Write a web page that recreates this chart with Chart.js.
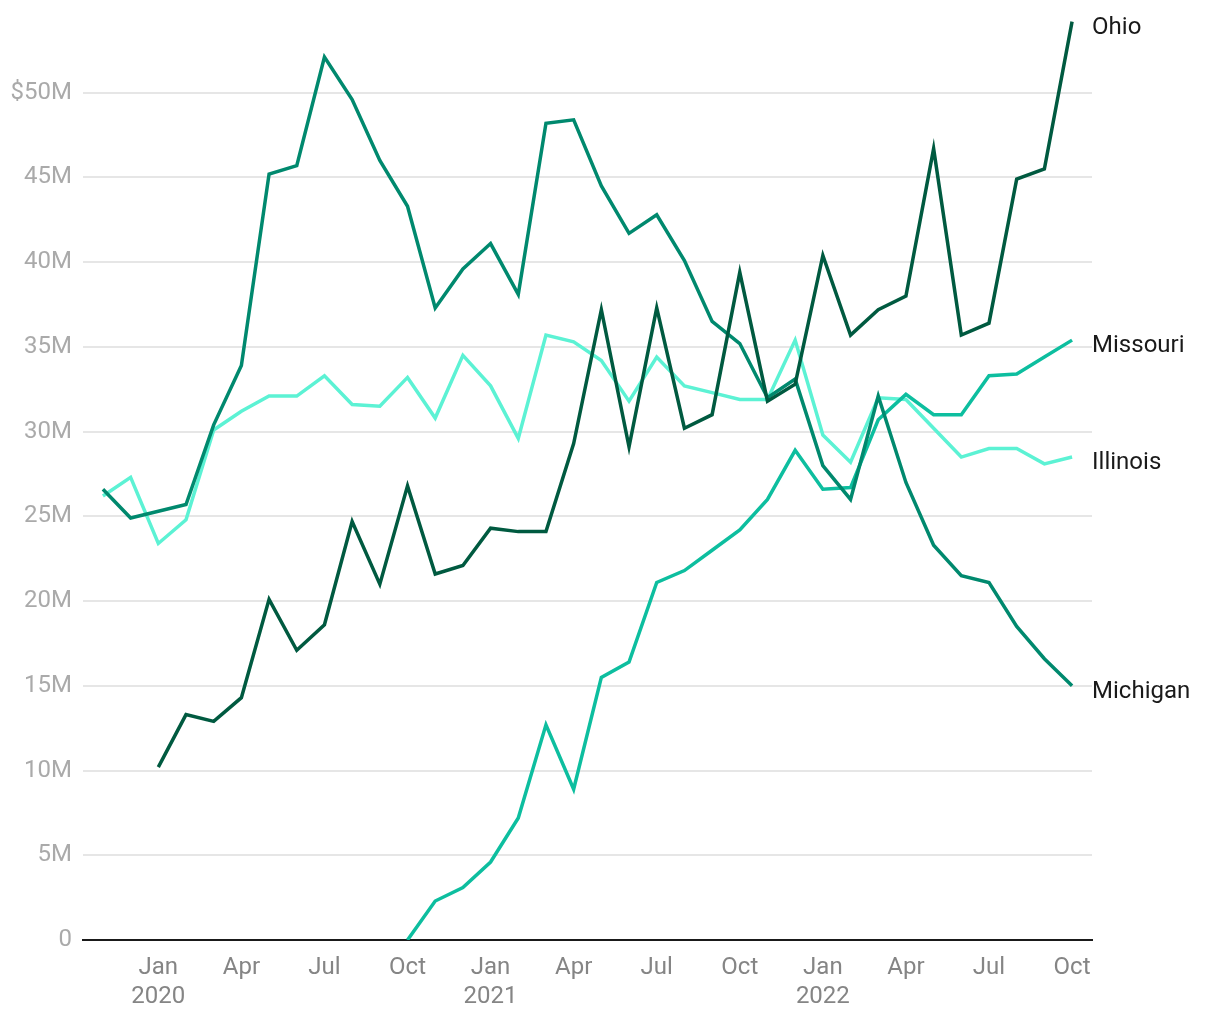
<!DOCTYPE html>
<html>
<head>
<meta charset="utf-8">
<script src="https://cdn.jsdelivr.net/npm/chart.js@4/dist/chart.umd.min.js"></script>
<style>
  body { margin: 0; background: #fff; }
  #wrap { width: 1220px; height: 1020px; }
</style>
</head>
<body>
<div id="wrap"><canvas id="chart"></canvas></div>
<script>
// months Nov 2019 .. Oct 2022
const months = ['Nov','Dec','Jan','Feb','Mar','Apr','May','Jun','Jul','Aug','Sep','Oct',
  'Nov','Dec','Jan','Feb','Mar','Apr','May','Jun','Jul','Aug','Sep','Oct',
  'Nov','Dec','Jan','Feb','Mar','Apr','May','Jun','Jul','Aug','Sep','Oct'];
const years = ['2019','2019','2020','2020','2020','2020','2020','2020','2020','2020','2020','2020',
  '2020','2020','2021','2021','2021','2021','2021','2021','2021','2021','2021','2021',
  '2021','2021','2022','2022','2022','2022','2022','2022','2022','2022','2022','2022'];

// values in $M
const ohio = [null, null, 10.2, 13.3, 12.9, 14.3, 20.1, 17.1, 18.6, 24.7, 21.0, 26.8,
  21.6, 22.1, 24.3, 24.1, 24.1, 29.3, 37.2, 29.1, 37.3, 30.2, 31.0, 39.4,
  31.8, 32.8, 40.4, 35.7, 37.2, 38.0, 46.7, 35.7, 36.4, 44.9, 45.5, 54.2];
const michigan = [26.6, 24.9, 25.3, 25.7, 30.4, 33.9, 45.2, 45.7, 52.1, 49.6, 46.0, 43.3,
  37.3, 39.6, 41.1, 38.1, 48.2, 48.4, 44.5, 41.7, 42.8, 40.1, 36.5, 35.2,
  32.0, 33.1, 28.0, 26.0, 32.1, 27.0, 23.3, 21.5, 21.1, 18.5, 16.6, 15.0];
const missouri = [null, null, null, null, null, null, null, null, null, null, null, 0,
  2.3, 3.1, 4.6, 7.2, 12.7, 8.9, 15.5, 16.4, 21.1, 21.8, 23.0, 24.2,
  26.0, 28.9, 26.6, 26.7, 30.7, 32.2, 31.0, 31.0, 33.3, 33.4, 34.4, 35.4];
const illinois = [26.2, 27.3, 23.4, 24.8, 30.1, 31.2, 32.1, 32.1, 33.3, 31.6, 31.5, 33.2,
  30.8, 34.5, 32.7, 29.6, 35.7, 35.3, 34.2, 31.8, 34.4, 32.7, 32.3, 31.9,
  31.9, 35.4, 29.8, 28.2, 32.0, 31.9, 30.2, 28.5, 29.0, 29.0, 28.1, 28.5];

const xTicks = [2, 5, 8, 11, 14, 17, 20, 23, 26, 29, 32, 35];
const yTicks = [0, 5, 10, 15, 20, 25, 30, 35, 40, 45, 50];

function toPoints(arr) {
    return arr.map((v, i) => ({ x: i, y: v }));
}

function makeSet(name, arr, color, order) {
    return {
        label: name,
        data: toPoints(arr),
        borderColor: color,
        backgroundColor: color,
        borderWidth: 3.5,
        pointRadius: 0,
        tension: 0,
        spanGaps: false,
        order: order
    };
}

// labels at the end of each line
const endLabels = {
    id: 'endLabels',
    afterDatasetsDraw(chart) {
        const ctx = chart.ctx;
        ctx.save();
        ctx.font = '24px Roboto';
        ctx.fillStyle = '#1a1a1a';
        ctx.textAlign = 'left';
        ctx.textBaseline = 'middle';
        chart.data.datasets.forEach((ds, i) => {
            const meta = chart.getDatasetMeta(i);
            const last = meta.data[meta.data.length - 1];
            ctx.fillText(ds.label, last.x + 20, last.y + 6);
        });
        ctx.restore();
    }
};

Chart.defaults.font.family = 'Roboto';

new Chart(document.getElementById('chart'), {
    type: 'line',
    data: {
        datasets: [
            makeSet('Ohio', ohio, '#005a40', 1),
            makeSet('Michigan', michigan, '#00896e', 2),
            makeSet('Missouri', missouri, '#0dbe9f', 3),
            makeSet('Illinois', illinois, '#5cf2d4', 4)
        ]
    },
    options: {
        responsive: true,
        maintainAspectRatio: false,
        animation: false,
        layout: { padding: { top: 8, right: 128, left: 0, bottom: 0 } },
        plugins: {
            legend: { display: false },
            tooltip: { enabled: false }
        },
        scales: {
            x: {
                type: 'linear',
                min: -0.72,
                max: 35.72,
                afterBuildTicks: (scale) => {
                    scale.ticks = xTicks.map(v => ({ value: v }));
                },
                afterFit: (scale) => {
                    scale.height = 80;
                    scale.paddingLeft = 0;
                    scale.paddingRight = 0;
                },
                grid: { display: false },
                border: { display: true, color: '#1a1a1a', width: 2 },
                ticks: {
                    color: '#858585',
                    font: { size: 24 },
                    padding: 6,
                    maxRotation: 0,
                    autoSkip: false,
                    callback: (v) => {
                        const m = months[v];
                        return m === 'Jan' ? [m, years[v]] : m;
                    }
                }
            },
            y: {
                min: 0,
                max: 55,
                afterBuildTicks: (scale) => {
                    scale.ticks = yTicks.map(v => ({ value: v }));
                },
                afterFit: (scale) => {
                    scale.width = 83;
                    scale.paddingTop = 0;
                    scale.paddingBottom = 0;
                },
                grid: { color: '#e6e6e6', lineWidth: 2, drawTicks: false },
                border: { display: false },
                ticks: {
                    color: '#aaaaaa',
                    font: { size: 24 },
                    padding: 11,
                    callback: (v) => v === 0 ? '0' : (v === 50 ? '$50M' : v + 'M')
                }
            }
        }
    },
    plugins: [endLabels]
});
</script>
</body>
</html>
